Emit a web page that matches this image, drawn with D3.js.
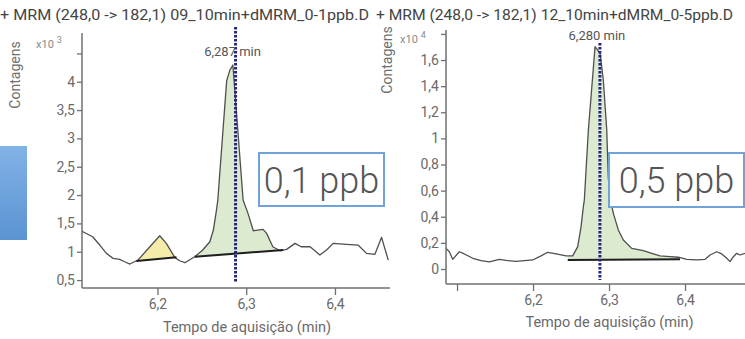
<!DOCTYPE html>
<html>
<head>
<meta charset="utf-8">
<script src="https://cdn.jsdelivr.net/npm/d3@7"></script>
<style>
  body { margin: 0; background: #fff; }
  svg { display: block; font-family: Roboto, "Noto Sans", sans-serif; }
</style>
</head>
<body>
<div id="chart"></div>
<script>
// Chromatogram data
var titles = ["+ MRM (248,0 -> 182,1) 09_10min+dMRM_0-1ppb.D", "+ MRM (248,0 -> 182,1) 12_10min+dMRM_0-5ppb.D"];
var concLabels = ["0,1 ppb", "0,5 ppb"];
var peakLabels = ["6,287 min", "6,280 min"];
var peakMarkerTimes = [6.288, 6.288];
var exponents = ["3", "4"];

var leftTime = [6.115, 6.116, 6.127, 6.135, 6.1425, 6.150, 6.1575, 6.163, 6.169, 6.174, 6.178, 6.2026, 6.210, 6.2195, 6.225, 6.231, 6.236, 6.242, 6.251, 6.259, 6.263, 6.2665, 6.268, 6.278, 6.2815, 6.285, 6.2965, 6.302, 6.308, 6.319, 6.323, 6.330, 6.338, 6.3455, 6.355, 6.362, 6.372, 6.383, 6.3905, 6.398, 6.413, 6.426, 6.4355, 6.445, 6.4525, 6.460];
var leftCounts = [1.37, 1.353, 1.264, 1.118, 0.971, 0.883, 0.866, 0.823, 0.783, 0.823, 0.853, 1.282, 1.148, 0.901, 0.841, 0.806, 0.853, 0.911, 1.030, 1.176, 1.383, 1.736, 1.912, 4.02, 4.20, 4.295, 1.912, 1.677, 1.370, 1.395, 1.324, 1.088, 1.017, 1.042, 1.148, 1.088, 1.088, 0.941, 1.030, 1.148, 1.130, 1.118, 0.971, 0.954, 1.254, 0.853];

var rightTime = [6.0855, 6.0899, 6.0943, 6.103, 6.1096, 6.1207, 6.1316, 6.1425, 6.1557, 6.1667, 6.1776, 6.1886, 6.1996, 6.2105, 6.2193, 6.2303, 6.2434, 6.2522, 6.2588, 6.2632, 6.2662, 6.2675, 6.2728, 6.2816, 6.2882, 6.2925, 6.297, 6.299, 6.302, 6.3057, 6.3122, 6.3188, 6.3299, 6.3451, 6.3562, 6.3671, 6.3803, 6.3912, 6.4022, 6.4154, 6.4263, 6.4329, 6.4417, 6.4483, 6.4549, 6.4592, 6.4636, 6.468, 6.4724, 6.4789];
var rightCounts = [0.158, 0.132, 0.074, 0.132, 0.115, 0.082, 0.064, 0.054, 0.074, 0.064, 0.059, 0.064, 0.069, 0.100, 0.128, 0.115, 0.100, 0.100, 0.171, 0.324, 0.477, 0.528, 1.064, 1.702, 1.652, 1.447, 1.064, 0.70, 0.53, 0.426, 0.299, 0.222, 0.158, 0.140, 0.120, 0.100, 0.094, 0.090, 0.074, 0.069, 0.074, 0.107, 0.132, 0.115, 0.082, 0.056, 0.094, 0.120, 0.107, 0.120];

// integrated peaks: [start time, start baseline, end time, end baseline]
var leftPeaks = [[6.1763, 0.836, 6.2214, 0.901], [6.242, 0.911, 6.3416, 1.030]];
var rightPeaks = [[6.2457, 0.069, 6.3934, 0.074]];
var peakFills = [["#f4eca8", "#dcead0"], ["#dcead0"]];

var leftYTicks = [0.5, 1, 1.5, 2, 2.5, 3, 3.5, 4, 4.5];
var rightYTicks = [0, 0.2, 0.4, 0.6, 0.8, 1, 1.2, 1.4, 1.6, 1.8];
var leftXTicks = [6.2, 6.3, 6.4];
var rightXTicks = [6.1, 6.2, 6.3, 6.4];

var width = 745, height = 339;

var svg = d3.select("#chart").append("svg")
    .attr("width", width)
    .attr("height", height);

var grad = svg.append("defs").append("linearGradient")
    .attr("id", "blueGrad").attr("x1", 0).attr("y1", 0).attr("x2", 0).attr("y2", 1);
grad.append("stop").attr("offset", "0%").attr("stop-color", "#82b2e6");
grad.append("stop").attr("offset", "100%").attr("stop-color", "#5b93d2");

// stray blue block on the left edge
svg.append("rect")
    .attr("x", 0).attr("y", 146).attr("width", 27).attr("height", 94)
    .attr("fill", "url(#blueGrad)");

var panels = [
  { time: leftTime, counts: leftCounts, peaks: leftPeaks, fills: peakFills[0],
    xDomain: [6.115, 6.462], xRange: [82, 390], yDomain: [0.36, 4.86], yRange: [288, 33],
    xTicks: leftXTicks, yTicks: leftYTicks, hideY: 4.5, hideX: null,
    titleX: 0, titleLen: 369, ylabX: 20, ylabY: 75, expX: 36, expY: 48,
    markTop: 27, markBottom: 283, peakLabelY: 56,
    box: [259, 153, 125, 53], xTitleY: 332 },
  { time: rightTime, counts: rightCounts, peaks: rightPeaks, fills: peakFills[1],
    xDomain: [6.0855, 6.4789], xRange: [446, 745], yDomain: [-0.115, 1.83], yRange: [284, 30],
    xTicks: rightXTicks, yTicks: rightYTicks, hideY: 1.8, hideX: 6.1,
    titleX: 376, titleLen: 357, ylabX: 392, ylabY: 60, expX: 400, expY: 43,
    markTop: 43, markBottom: 280, peakLabelY: 40,
    box: [609, 153, 135, 54], xTitleY: 327 }
];

function fmt(d) { return String(+d.toFixed(1)).replace(".", ","); }

function interp(xs, ys, t) {
  for (var i = 1; i < xs.length; i++) {
    if (xs[i] >= t) {
      var k = (t - xs[i - 1]) / (xs[i] - xs[i - 1]);
      return ys[i - 1] + k * (ys[i] - ys[i - 1]);
    }
  }
  return ys[ys.length - 1];
}

panels.forEach(function(p, pi) {
  var x = d3.scaleLinear().domain(p.xDomain).range(p.xRange);
  var y = d3.scaleLinear().domain(p.yDomain).range(p.yRange);
  var g = svg.append("g");

  var pts = p.time.map(function(t, i) { return [t, p.counts[i]]; });

  // filled peak areas between trace and baseline
  p.peaks.forEach(function(pk, k) {
    var t0 = pk[0], t1 = pk[2];
    var inner = pts.filter(function(d) { return d[0] > t0 && d[0] < t1; });
    var seg = [[t0, interp(p.time, p.counts, t0)]].concat(inner, [[t1, interp(p.time, p.counts, t1)]]);
    var area = d3.area()
        .x(function(d) { return x(d[0]); })
        .y0(function(d) { return y(pk[1] + (d[0] - t0) / (t1 - t0) * (pk[3] - pk[1])); })
        .y1(function(d) { return y(d[1]); });
    g.append("path").attr("d", area(seg)).attr("fill", p.fills[k]).attr("stroke", "none");
  });

  // trace
  g.append("path")
      .attr("d", d3.line().x(function(d) { return x(d[0]); }).y(function(d) { return y(d[1]); })(pts))
      .attr("fill", "none")
      .attr("stroke", "#4f4f4f")
      .attr("stroke-width", 1.3)
      .attr("stroke-linejoin", "round");

  // baselines
  p.peaks.forEach(function(pk) {
    g.append("line")
        .attr("x1", x(pk[0])).attr("y1", y(pk[1]))
        .attr("x2", x(pk[2])).attr("y2", y(pk[3]))
        .attr("stroke", "#1e1e1e").attr("stroke-width", 2);
  });

  // axes
  var yAxis = d3.axisLeft(y).tickValues(p.yTicks).tickSize(5).tickPadding(2)
      .tickFormat(function(d) { return d === p.hideY ? "" : fmt(d); });
  var xAxis = d3.axisBottom(x).tickValues(p.xTicks).tickSize(7).tickPadding(4)
      .tickFormat(function(d) { return d === p.hideX ? "" : fmt(d); });

  var ya = g.append("g").attr("transform", "translate(" + p.xRange[0] + ",0)").call(yAxis);
  var xa = g.append("g").attr("transform", "translate(0," + p.yRange[0] + ")").call(xAxis);
  [ya, xa].forEach(function(a) {
    a.select(".domain").attr("stroke", "#707070").attr("stroke-width", 1.5);
    a.selectAll(".tick line").attr("stroke", "#707070").attr("stroke-width", 1.3);
    a.selectAll("text").attr("fill", "#6a6a6a").style("font-size", "14px").style("font-family", "Roboto");
  });
  ya.select(".domain").attr("d", "M0," + p.yRange[0] + "V" + p.yRange[1]);
  xa.select(".domain").attr("d", "M" + p.xRange[0] + ",0H" + p.xRange[1]);

  // marker for retention time
  g.append("line")
      .attr("x1", x(peakMarkerTimes[pi])).attr("x2", x(peakMarkerTimes[pi]))
      .attr("y1", p.markTop).attr("y2", p.markBottom)
      .attr("stroke", "#25257c").attr("stroke-width", 3)
      .attr("stroke-dasharray", "2.5,1.5");

  g.append("text")
      .attr("x", x(peakMarkerTimes[pi]) - 3).attr("y", p.peakLabelY)
      .attr("text-anchor", "middle")
      .attr("fill", "#555").style("font-size", "13px")
      .text(peakLabels[pi]);

  // titles and labels
  g.append("text")
      .attr("x", p.titleX).attr("y", 20)
      .attr("textLength", p.titleLen).attr("lengthAdjust", "spacingAndGlyphs")
      .attr("fill", "#444").style("font-size", "15px")
      .text(titles[pi]);

  g.append("text")
      .attr("transform", "translate(" + p.ylabX + "," + p.ylabY + ") rotate(-90)")
      .attr("text-anchor", "middle")
      .attr("fill", "#6f6f6f").style("font-size", "14px")
      .text("Contagens");

  var ex = g.append("text")
      .attr("x", p.expX).attr("y", p.expY)
      .attr("fill", "#8a8a8a").style("font-size", "11px");
  ex.append("tspan").text("x10");
  ex.append("tspan").attr("dx", 3).attr("dy", -5).style("font-size", "9px").text(exponents[pi]);

  g.append("text")
      .attr("x", (p.xRange[0] + p.xRange[1]) / 2 + (pi === 0 ? 11 : 14)).attr("y", p.xTitleY)
      .attr("text-anchor", "middle")
      .attr("fill", "#6a6a6a").style("font-size", "14.5px")
      .text("Tempo de aquisição (min)");

  // concentration box
  g.append("rect")
      .attr("x", p.box[0]).attr("y", p.box[1]).attr("width", p.box[2]).attr("height", p.box[3])
      .attr("fill", "#fff").attr("stroke", "#6fa3d9").attr("stroke-width", 2);
  g.append("text")
      .attr("x", p.box[0] + p.box[2] / 2).attr("y", p.box[1] + 40)
      .attr("text-anchor", "middle")
      .attr("fill", "#555").style("font-size", "36px").style("font-weight", 300)
      .text(concLabels[pi]);
});
</script>
</body>
</html>
